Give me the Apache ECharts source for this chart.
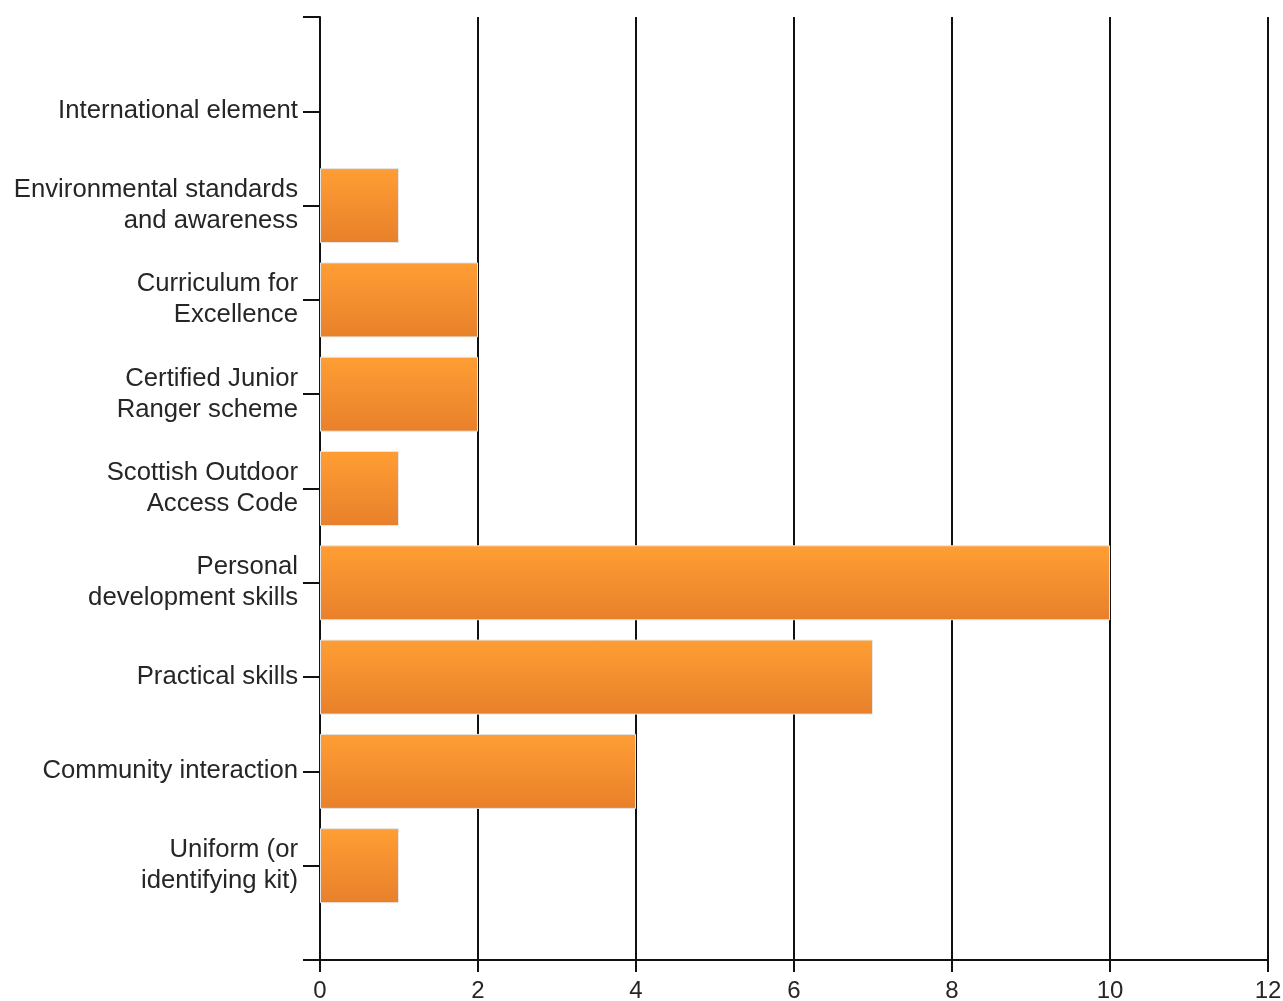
<!DOCTYPE html>
<html><head><meta charset="utf-8">
<script src="https://cdn.jsdelivr.net/npm/echarts@6/dist/echarts.min.js"></script>
<style>html,body{margin:0;padding:0;background:#fff}#c{width:1283px;height:1001px}</style>
</head><body><div id="c"></div>
<script>
const categories = ['', 'International element', 'Environmental standards\nand awareness', 'Curriculum for\nExcellence', 'Certified Junior\nRanger scheme', 'Scottish Outdoor\nAccess Code', 'Personal\ndevelopment skills', 'Practical skills', 'Community interaction', 'Uniform (or\nidentifying kit)', ''];
const values = [null, 0, 1, 2, 2, 1, 10, 7, 4, 1, null];
const xTicks = [0, 2, 4, 6, 8, 10, 12];

const seriesData = values.map(v => v === 0 ? {value: 0, itemStyle: {borderWidth: 0}} : v);

const chart = echarts.init(document.getElementById('c'));
chart.setOption({
  animation: false,
  grid: {left: 320, right: 15, top: 17, bottom: 41, containLabel: false, outerBoundsMode: 'none'},
  xAxis: {
    type: 'value', min: xTicks[0], max: xTicks[xTicks.length - 1], interval: 2,
    axisLine: {show: true, lineStyle: {color: '#111', width: 2}},
    axisTick: {show: true, length: 12, lineStyle: {color: '#111', width: 2}},
    axisLabel: {fontFamily: 'Liberation Sans, Arial, sans-serif', fontSize: 24, color: '#262626', margin: 19},
    splitLine: {show: true, lineStyle: {color: '#111', width: 2}}
  },
  yAxis: {
    type: 'category', data: categories, inverse: true, boundaryGap: false,
    axisLine: {show: true, onZero: false, lineStyle: {color: '#111', width: 2}},
    axisTick: {show: true, length: 17, alignWithLabel: true, lineStyle: {color: '#111', width: 2}},
    axisLabel: {fontFamily: 'Liberation Sans, Arial, sans-serif', fontSize: 25.7, color: '#262626', margin: 22, lineHeight: 31, align: 'right', interval: 0},
    splitLine: {show: false}
  },
  series: [{
    type: 'bar', data: seriesData, barWidth: 75,
    itemStyle: {
      borderColor: '#e6e6e6', borderWidth: 1,
      color: new echarts.graphic.LinearGradient(0, 0, 0, 1, [
        {offset: 0, color: '#ff9e34'}, {offset: 1, color: '#e8802a'}
      ])
    }
  }]
});
</script></body></html>
